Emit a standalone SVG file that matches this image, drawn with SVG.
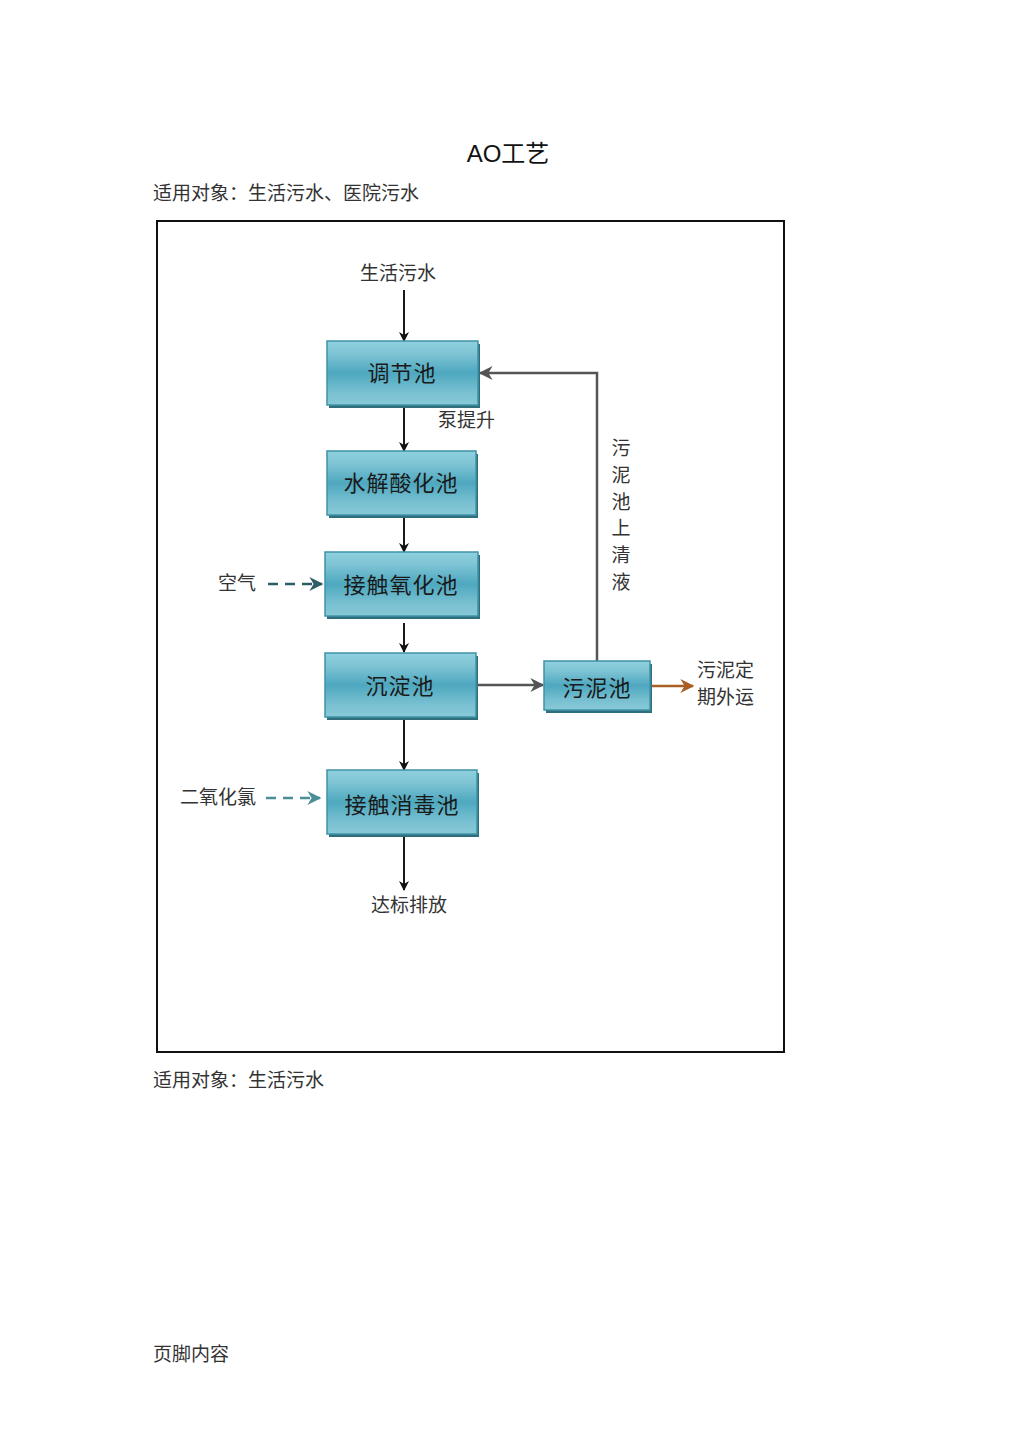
<svg xmlns="http://www.w3.org/2000/svg" width="1024" height="1449" viewBox="0 0 1024 1449">
<style>
.t{font-family:"Noto Sans CJK SC","Liberation Sans",sans-serif;fill:#333;font-size:19px}
.bt{font-family:"Noto Sans CJK SC","Liberation Sans",sans-serif;fill:#1a1a1a;font-size:22px;text-anchor:middle;letter-spacing:1px}
.box{fill:url(#g);stroke:#3f93a8;stroke-width:1.5}
.sh{fill:#2f6e7c}
.flow{stroke:#1a1a1a;stroke-width:2;fill:none}
.gray{stroke:#555;stroke-width:2.5;fill:none}
</style>
<defs>
<linearGradient id="g" x1="0" y1="0" x2="0" y2="1">
<stop offset="0" stop-color="#8fd0dd"/>
<stop offset="0.2" stop-color="#7ec4d4"/>
<stop offset="0.5" stop-color="#4ea8bf"/>
<stop offset="0.8" stop-color="#78c0d1"/>
<stop offset="1" stop-color="#88c9d7"/>
</linearGradient>
<marker id="ab" viewBox="0 0 10 10" refX="9" refY="5" markerWidth="11" markerHeight="10" orient="auto" markerUnits="userSpaceOnUse">
<path d="M0,0 L10,5 L0,10 L3,5 Z" fill="#111"/>
</marker>
<marker id="ag" viewBox="0 0 10 10" refX="9" refY="5" markerWidth="16" markerHeight="14" orient="auto" markerUnits="userSpaceOnUse">
<path d="M0,0 L10,5 L0,10 L3,5 Z" fill="#555"/>
</marker>
<marker id="ao" viewBox="0 0 10 10" refX="9" refY="5" markerWidth="16" markerHeight="14" orient="auto" markerUnits="userSpaceOnUse">
<path d="M0,0 L10,5 L0,10 L3,5 Z" fill="#a85f25"/>
</marker>
<marker id="at1" viewBox="0 0 10 10" refX="9" refY="5" markerWidth="16" markerHeight="14" orient="auto" markerUnits="userSpaceOnUse">
<path d="M0,0 L10,5 L0,10 L3,5 Z" fill="#2e5d68"/>
</marker>
<marker id="at2" viewBox="0 0 10 10" refX="9" refY="5" markerWidth="16" markerHeight="14" orient="auto" markerUnits="userSpaceOnUse">
<path d="M0,0 L10,5 L0,10 L3,5 Z" fill="#4a8e98"/>
</marker>
</defs>
<rect width="1024" height="1449" fill="#fff"/>
<text x="508" y="162" text-anchor="middle" style="font-family:'Liberation Sans','Noto Sans CJK SC',sans-serif;font-size:24px;fill:#111">AO工艺</text>
<text class="t" x="153" y="200">适用对象：生活污水、医院污水</text>
<rect x="157" y="221" width="627" height="831" fill="none" stroke="#111" stroke-width="2"/>

<g id="connectors">
<line class="flow" x1="404" y1="290" x2="404" y2="341" marker-end="url(#ab)"/>
<line class="flow" x1="404" y1="408" x2="404" y2="451" marker-end="url(#ab)"/>
<line class="flow" x1="404" y1="518" x2="404" y2="552" marker-end="url(#ab)"/>
<line class="flow" x1="404" y1="623" x2="404" y2="652" marker-end="url(#ab)"/>
<line class="flow" x1="404" y1="720" x2="404" y2="770" marker-end="url(#ab)"/>
<line class="flow" x1="404" y1="837" x2="404" y2="890" marker-end="url(#ab)"/>
<polyline class="gray" points="597,661 597,373 480,373" marker-end="url(#ag)"/>
<line class="gray" x1="477" y1="685" x2="543" y2="685" marker-end="url(#ag)"/>
<line x1="651" y1="686" x2="693" y2="686" stroke="#a85f25" stroke-width="2.5" marker-end="url(#ao)"/>
<line x1="268" y1="584" x2="322" y2="584" stroke="#2e5d68" stroke-width="2.5" stroke-dasharray="10,7" marker-end="url(#at1)"/>
<line x1="266" y1="798" x2="320" y2="798" stroke="#4a8e98" stroke-width="2.5" stroke-dasharray="10,7" marker-end="url(#at2)"/>
</g>

<g id="n-tiaojie">
<rect class="sh" x="329" y="344" width="151" height="64"/>
<rect class="box" x="327" y="341" width="151" height="64"/>
<text class="bt" x="402" y="381">调节池</text>
</g>
<g id="n-shuijie">
<rect class="sh" x="329" y="454" width="149" height="64"/>
<rect class="box" x="327" y="451" width="149" height="64"/>
<text class="bt" x="401" y="491">水解酸化池</text>
</g>
<g id="n-jiechuyang">
<rect class="sh" x="327" y="555" width="153" height="64"/>
<rect class="box" x="325" y="552" width="153" height="64"/>
<text class="bt" x="401" y="593">接触氧化池</text>
</g>
<g id="n-chendian">
<rect class="sh" x="327" y="656" width="151" height="64"/>
<rect class="box" x="325" y="653" width="151" height="64"/>
<text class="bt" x="400" y="694">沉淀池</text>
</g>
<g id="n-wuni">
<rect class="sh" x="546" y="664" width="106" height="49"/>
<rect class="box" x="544" y="661" width="106" height="49"/>
<text class="bt" x="597" y="696">污泥池</text>
</g>
<g id="n-xiaodu">
<rect class="sh" x="329" y="773" width="150" height="64"/>
<rect class="box" x="327" y="770" width="150" height="64"/>
<text class="bt" x="402" y="813">接触消毒池</text>
</g>

<g id="labels">
<text class="t" x="398" y="280" text-anchor="middle">生活污水</text>
<text class="t" x="438" y="427">泵提升</text>
<text class="t" x="621" y="455" text-anchor="middle">污</text>
<text class="t" x="621" y="482" text-anchor="middle">泥</text>
<text class="t" x="621" y="509" text-anchor="middle">池</text>
<text class="t" x="621" y="535" text-anchor="middle">上</text>
<text class="t" x="621" y="562" text-anchor="middle">清</text>
<text class="t" x="621" y="589" text-anchor="middle">液</text>
<text class="t" x="697" y="677">污泥定</text>
<text class="t" x="697" y="704">期外运</text>
<text class="t" x="218" y="590">空气</text>
<text class="t" x="180" y="804">二氧化氯</text>
<text class="t" x="409" y="912" text-anchor="middle">达标排放</text>
</g>
<text class="t" x="153" y="1087">适用对象：生活污水</text>
<text class="t" x="153" y="1361">页脚内容</text>
</svg>
